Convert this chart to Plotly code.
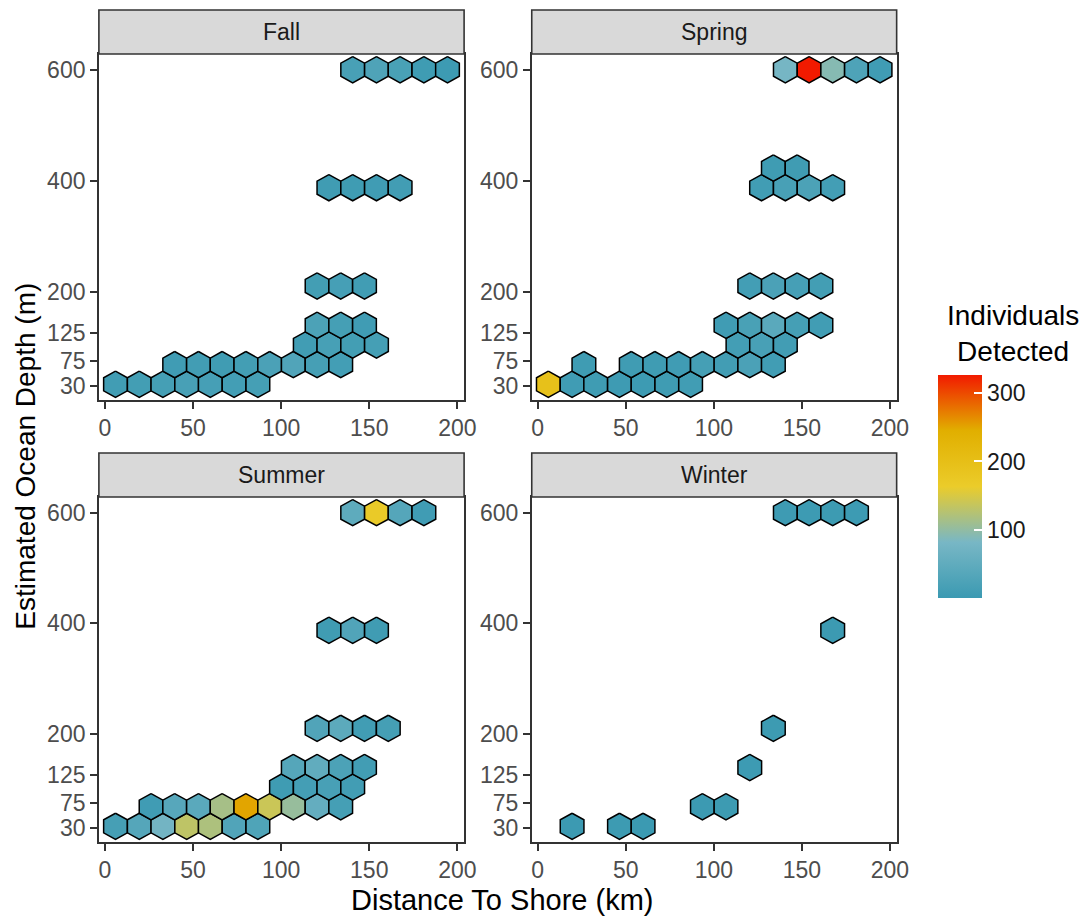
import plotly.graph_objects as go
from plotly.colors import hex_to_rgb

# ---------------------------------------------------------------
# Hexbin counts of detected individuals, by season.
# Each entry is one hex bin: centre distance (km), centre depth (m), count.
# ---------------------------------------------------------------
seasons = ["Fall", "Spring", "Summer", "Winter"]

fall_km = [6.0, 19.5, 32.9, 46.4, 59.8, 73.3, 86.8,
           39.6, 53.1, 66.5, 80.0, 93.5, 106.9, 120.4, 133.8,
           113.7, 127.1, 140.6, 154.1,
           120.4, 133.8, 147.3,
           120.4, 133.8, 147.3,
           127.1, 140.6, 154.1, 167.5,
           140.6, 154.1, 167.5, 181.0, 194.4]
fall_depth = [33.0] * 7 + [68.4] * 8 + [103.9] * 4 + [139.3] * 3 + [210.2] * 3 + [387.4] * 4 + [600.0] * 5
fall_count = [9, 11, 14, 18, 16, 12, 14,
              8, 10, 7, 11, 22, 30, 15, 12,
              9, 17, 11, 14,
              24, 14, 8,
              11, 16, 9,
              7, 6, 8, 10,
              18, 27, 20, 6, 4]

spring_km = [6.0, 19.5, 32.9, 46.4, 59.8, 73.3, 86.8,
             26.2, 53.1, 66.5, 80.0, 93.5, 106.9, 120.4, 133.8,
             113.7, 127.1, 140.6,
             106.9, 120.4, 133.8, 147.3, 160.8,
             120.4, 133.8, 147.3, 160.8,
             127.1, 140.6, 154.1, 167.5,
             133.8, 147.3,
             140.6, 154.1, 167.5, 181.0, 194.4]
spring_depth = [33.0] * 7 + [68.4] * 8 + [103.9] * 3 + [139.3] * 5 + [210.2] * 4 + [387.4] * 4 + [422.8] * 2 + [600.0] * 5
spring_count = [195, 8, 6, 5, 4, 6, 9,
                6, 7, 6, 8, 14, 10, 22, 9,
                12, 18, 10,
                8, 20, 42, 14, 9,
                12, 22, 16, 11,
                9, 18, 24, 12,
                6, 7,
                80, 326, 92, 26, 8]

summer_km = [6.0, 19.5, 32.9, 46.4, 59.8, 73.3, 86.8,
             26.2, 39.6, 53.1, 66.5, 80.0, 93.5, 106.9, 120.4, 133.8,
             100.2, 113.7, 127.1, 140.6,
             106.9, 120.4, 133.8, 147.3,
             120.4, 133.8, 147.3, 160.8,
             127.1, 140.6, 154.1,
             140.6, 154.1, 167.5, 181.0]
summer_depth = [33.0] * 7 + [68.4] * 9 + [103.9] * 4 + [139.3] * 4 + [210.2] * 4 + [387.4] * 3 + [600.0] * 4
summer_count = [15, 35, 75, 132, 120, 30, 28,
                8, 38, 42, 115, 250, 140, 104, 55, 14,
                6, 13, 18, 10,
                35, 52, 24, 10,
                30, 45, 9, 14,
                7, 30, 7,
                48, 168, 36, 8]

winter_km = [19.5, 46.4, 59.8,
             93.5, 106.9,
             120.4,
             133.8,
             167.5,
             140.6, 154.1, 167.5, 181.0]
winter_depth = [33.0] * 3 + [68.4] * 2 + [139.3] + [210.2] + [387.4] + [600.0] * 4
winter_count = [2, 3, 1,
                2, 3,
                4,
                3,
                2,
                5, 4, 3, 4]

x_ticks = [0, 50, 100, 150, 200]
y_ticks = [30, 75, 125, 200, 400, 600]
cbar_ticks = [100, 200, 300]

# ---------------------------------------------------------------
# Styling / geometry
# ---------------------------------------------------------------
W, H = 1083, 918
FONT = "Liberation Sans, Arial, sans-serif"
TICK_SIZE = 23
TITLE_SIZE = 28
BIN_W = 13.457          # hex bin width in km
BIN_H = 35.44           # vertical spacing of hex rows in m
ZISSOU = ["#3B9AB2", "#78B7C5", "#EBCC2A", "#E1AF00", "#F21A00"]
colorscale = [[i / (len(ZISSOU) - 1), c] for i, c in enumerate(ZISSOU)]

panels = {  # left, right, top, bottom of each plotting region (px)
    "Fall":   (100.0, 469.3, 54.0, 400.0),
    "Spring": (537.7, 906.7, 54.0, 400.0),
    "Summer": (100.0, 469.3, 497.0, 842.0),
    "Winter": (537.7, 906.7, 497.0, 842.0),
}
STRIP_H = 44.0

data = {
    "Fall": (fall_km, fall_depth, fall_count),
    "Spring": (spring_km, spring_depth, spring_count),
    "Summer": (summer_km, summer_depth, summer_count),
    "Winter": (winter_km, winter_depth, winter_count),
}

all_counts = fall_count + spring_count + summer_count + winter_count
cmin, cmax = min(all_counts), max(all_counts)
all_km = fall_km + spring_km + summer_km + winter_km
all_depth = fall_depth + spring_depth + summer_depth + winter_depth


def padded(lo, hi, frac=0.05):
    span = hi - lo
    return [lo - frac * span, hi + frac * span]


x_range = padded(min(all_km), max(all_km))
y_range = padded(min(all_depth), max(all_depth))


def fill_for(v):
    t = (v - cmin) / (cmax - cmin)
    t = min(max(t, 0.0), 1.0)
    n = len(ZISSOU) - 1
    i = min(int(t * n), n - 1)
    f = t * n - i
    a = hex_to_rgb(ZISSOU[i])
    b = hex_to_rgb(ZISSOU[i + 1])
    r, g, bl = (round(a[k] + (b[k] - a[k]) * f) for k in range(3))
    return f"rgb({r},{g},{bl})"


def hexagon(cx, cy):
    r = BIN_H * 2.0 / 3.0
    h = r / 2.0
    w = BIN_W / 2.0
    xs = [cx, cx + w, cx + w, cx, cx - w, cx - w, cx]
    ys = [cy + r, cy + h, cy - h, cy - r, cy - h, cy + h, cy + r]
    return xs, ys


fig = go.Figure()
layout_axes = {}
shapes = []
annotations = []

for idx, season in enumerate(seasons, start=1):
    xa = "x" if idx == 1 else f"x{idx}"
    ya = "y" if idx == 1 else f"y{idx}"
    km, depth, count = data[season]
    for cx, cy, c in zip(km, depth, count):
        hx, hy = hexagon(cx, cy)
        fig.add_trace(go.Scatter(
            x=hx, y=hy, xaxis=xa, yaxis=ya, mode="lines", fill="toself",
            fillcolor=fill_for(c), line=dict(color="black", width=1.5),
            hoverinfo="skip", showlegend=False))

    # invisible markers carrying the colour scale (colourbar on one panel)
    fig.add_trace(go.Scatter(
        x=km, y=depth, xaxis=xa, yaxis=ya, mode="markers",
        marker=dict(size=1, opacity=0, color=count, colorscale=colorscale,
                    cmin=cmin, cmax=cmax, showscale=(season == "Spring"),
                    colorbar=dict(
                        thickness=44, thicknessmode="pixels",
                        len=223, lenmode="pixels",
                        x=949 / W, xanchor="left", xpad=0,
                        y=1 - 375 / H, yanchor="top", ypad=0,
                        outlinewidth=0,
                        tickvals=cbar_ticks, ticks="inside", ticklen=8,
                        tickcolor="white", tickwidth=1.5,
                        tickprefix=" ",
                        tickfont=dict(family=FONT, size=TICK_SIZE, color="#1A1A1A"),
                    )),
        hoverinfo="text", text=[f"{season}: {c}" for c in count],
        showlegend=False))

    left, right, top, bottom = panels[season]
    axis_common = dict(
        showline=True, mirror=True, linecolor="#333333", linewidth=1.6,
        showgrid=False, zeroline=False, ticks="outside", ticklen=7,
        tickwidth=1.5, tickcolor="#333333",
        tickfont=dict(family=FONT, size=TICK_SIZE, color="#4D4D4D"),
    )
    layout_axes["xaxis" if idx == 1 else f"xaxis{idx}"] = dict(
        axis_common, domain=[left / W, right / W], range=x_range,
        tickvals=x_ticks, anchor=ya)
    layout_axes["yaxis" if idx == 1 else f"yaxis{idx}"] = dict(
        axis_common, domain=[1 - bottom / H, 1 - top / H], range=y_range,
        tickvals=y_ticks, anchor=xa)

    # facet strip
    shapes.append(dict(type="rect", xref="paper", yref="paper",
                       x0=left / W, x1=right / W,
                       y0=1 - top / H, y1=1 - (top - STRIP_H) / H,
                       fillcolor="#D9D9D9", line=dict(color="#333333", width=1.6),
                       layer="above"))
    annotations.append(dict(text=season, xref="paper", yref="paper",
                            x=(left + right) / 2 / W, y=1 - (top - STRIP_H / 2) / H,
                            xanchor="center", yanchor="middle", showarrow=False,
                            font=dict(family=FONT, size=TICK_SIZE, color="#1A1A1A")))

# axis titles and colour-bar title
annotations.append(dict(text="Distance To Shore (km)", xref="paper", yref="paper",
                        x=508 / W, y=1 - 900 / H, xanchor="center", yanchor="middle",
                        showarrow=False, font=dict(family=FONT, size=29, color="black")))
annotations.append(dict(text="Estimated Ocean Depth (m)", xref="paper", yref="paper",
                        x=25 / W, y=1 - 456 / H, xanchor="center", yanchor="middle",
                        textangle=-90, showarrow=False,
                        font=dict(family=FONT, size=TITLE_SIZE, color="black")))
annotations.append(dict(text="Individuals<br>Detected", xref="paper", yref="paper",
                        x=1024 / W, y=1 - 333 / H, xanchor="center", yanchor="middle",
                        align="center", showarrow=False,
                        font=dict(family=FONT, size=TITLE_SIZE, color="black")))

fig.update_layout(
    width=W, height=H, autosize=False,
    margin=dict(l=0, r=0, t=0, b=0),
    paper_bgcolor="white", plot_bgcolor="white",
    shapes=shapes, annotations=annotations,
    **layout_axes,
)

fig.write_html("out.html")
